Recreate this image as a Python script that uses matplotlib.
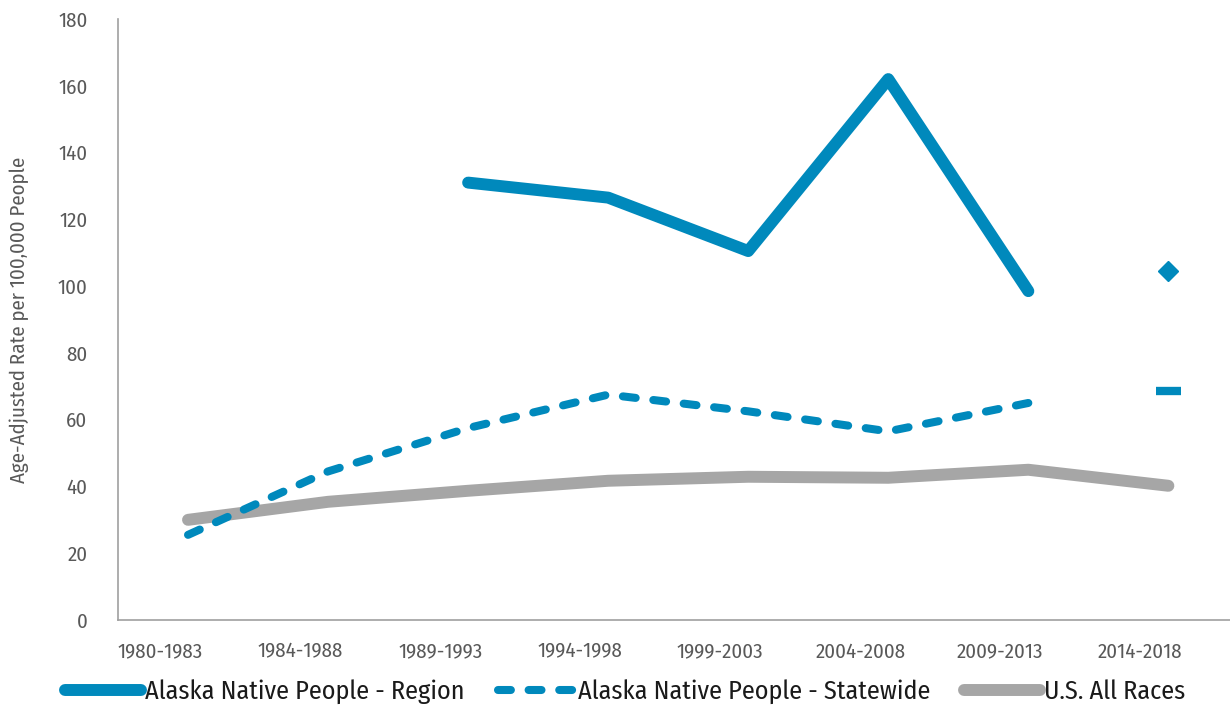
import matplotlib
matplotlib.use("Agg")
import matplotlib.pyplot as plt
import matplotlib.transforms as mtrans
from matplotlib.lines import Line2D
from matplotlib import font_manager as fm
import numpy as np

periods = ["1980-1983", "1984-1988", "1989-1993", "1994-1998",
           "1999-2003", "2004-2008", "2009-2013", "2014-2018"]
region = [np.nan, np.nan, 131, 126.5, 110.5, 162, 98.5, 104.5]
statewide = [25.5, 44.5, 57.5, 67.5, 62.5, 56.5, 65, 68.5]
us_all = [30, 35.4, 38.7, 41.7, 42.9, 42.6, 45, 40.2]

blue = "#0089BC"
gray = "#A6A6A6"
txt = "#595959"

avail = set(f.name for f in fm.fontManager.ttflist)
cands = ['Fira Sans Condensed', 'Sofia Sans Condensed', 'Encode Sans Condensed',
         'Roboto Condensed', 'Archivo Narrow', 'Asap Condensed', 'PT Sans Narrow']
chosen = [c for c in cands if c in avail][:1]
plt.rcParams['font.family'] = chosen + ['DejaVu Sans']

fig = plt.figure(figsize=(12.30, 7.06), dpi=100)
ax = fig.add_axes([118/1230, 1-620/706, 1112/1230, (620-19)/706])

x = np.arange(len(periods))
reg = np.array(region, dtype=float)
sw = np.array(statewide, dtype=float)
us = np.array(us_all, dtype=float)

ax.plot(x, us, color=gray, lw=8.6, solid_capstyle='round', solid_joinstyle='round', zorder=2)

ax.plot(x[:7], sw[:7], color=blue, lw=5.8, dashes=(1.6, 2.2), dash_capstyle='round', zorder=3)
ax.plot(x[7:], sw[7:], color=blue, marker='_', markersize=18, markeredgewidth=6, ls='none', zorder=3)

ax.plot(x[:7], reg[:7], color=blue, lw=8.6, solid_capstyle='round', solid_joinstyle='round', zorder=4)
ax.plot(x[7:], reg[7:], color=blue, marker='D', markersize=10, ls='none', zorder=4)

ax.set_xlim(-0.5, 7.44)
ax.set_ylim(0, 180)
ax.set_yticks(np.arange(0, 181, 20))
ax.set_xticks(x)
ax.set_xticklabels(periods)
ax.tick_params(axis='both', length=0, labelsize=15, colors=txt)
ax.tick_params(axis='x', pad=16)
ax.tick_params(axis='y', pad=22)
off = mtrans.ScaledTranslation(-28/100, 0, fig.dpi_scale_trans)
for lab in ax.get_xticklabels():
    lab.set_transform(lab.get_transform() + off)

for s in ['top', 'right']:
    ax.spines[s].set_visible(False)
for s in ['left', 'bottom']:
    ax.spines[s].set_color('#A0A0A0')
    ax.spines[s].set_linewidth(1.2)

ax.set_ylabel("Age-Adjusted Rate per 100,000 People", fontsize=15, color=txt)
ax.yaxis.set_label_coords(-0.08, 0.5)

h1 = Line2D([], [], color=blue, lw=8.6, solid_capstyle='round')
h2 = Line2D([], [], color=blue, lw=5.8, dashes=(1.6, 2.2), dash_capstyle='round')
h3 = Line2D([], [], color=gray, lw=8.6, solid_capstyle='round')
leg = fig.legend([h1, h2, h3],
                 ["Alaska Native People - Region", "Alaska Native People - Statewide", "U.S. All Races"],
                 loc='center', bbox_to_anchor=(0.508, 1-692/706), ncol=3, frameon=False,
                 fontsize=18.8, handlelength=2.9, handletextpad=0.15, columnspacing=1.3)
for t in leg.get_texts():
    t.set_color("#1a1a1a")

fig.savefig("out.png", dpi=100)
